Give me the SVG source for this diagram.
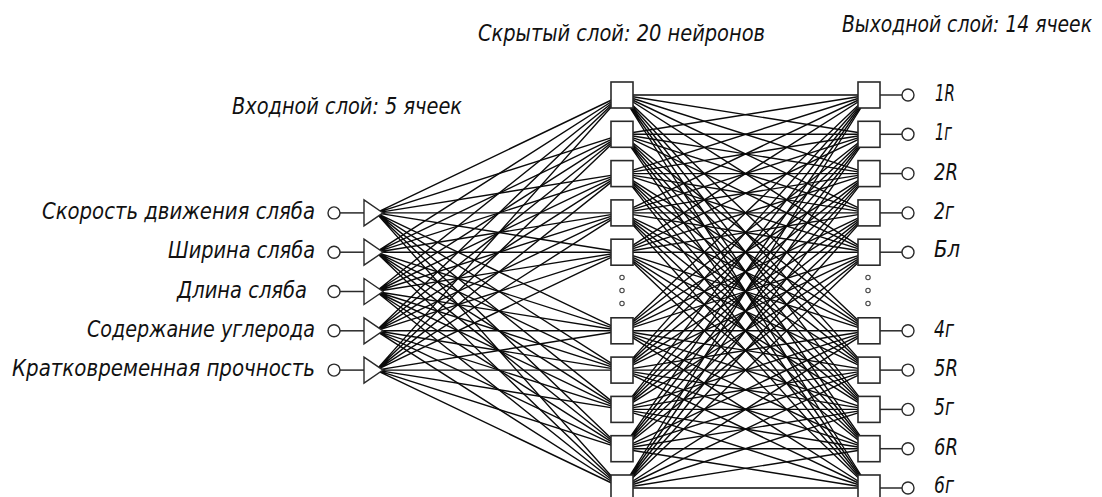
<svg xmlns="http://www.w3.org/2000/svg" width="1102" height="497" viewBox="0 0 1102 497">
<style>
.bg{fill:#fff}
.cn{stroke:#0a0a0a;stroke-width:1.4;fill:none}
.sq{fill:#fff;stroke:#2a2a2a;stroke-width:1.6}
.tr{fill:#fff;stroke:#2a2a2a;stroke-width:1.4}
.pin{fill:#fff;stroke:#2a2a2a;stroke-width:1.4}
.wire{stroke:#2a2a2a;stroke-width:1.5}
.dot{fill:#fff;stroke:#444;stroke-width:1.1}
.t{font-family:"Liberation Sans Narrow","DejaVu Sans Condensed","Liberation Sans",sans-serif;font-style:italic;fill:#111}
.ttl{font-size:23px}
.lbl{font-size:23px}
</style>
<rect class="bg" x="0" y="0" width="1102" height="497"/>

<g id="connectors">
<path class="cn" d="M376 212.9L622 95M376 212.9L622 134.3M376 212.9L622 173.6M376 212.9L622 212.9M376 212.9L622 252.2M376 212.9L622 330.8M376 212.9L622 370.1M376 212.9L622 409.4M376 212.9L622 448.7M376 212.9L622 488"/>
<path class="cn" d="M376 252.2L622 95M376 252.2L622 134.3M376 252.2L622 173.6M376 252.2L622 212.9M376 252.2L622 252.2M376 252.2L622 330.8M376 252.2L622 370.1M376 252.2L622 409.4M376 252.2L622 448.7M376 252.2L622 488"/>
<path class="cn" d="M376 291.5L622 95M376 291.5L622 134.3M376 291.5L622 173.6M376 291.5L622 212.9M376 291.5L622 252.2M376 291.5L622 330.8M376 291.5L622 370.1M376 291.5L622 409.4M376 291.5L622 448.7M376 291.5L622 488"/>
<path class="cn" d="M376 330.8L622 95M376 330.8L622 134.3M376 330.8L622 173.6M376 330.8L622 212.9M376 330.8L622 252.2M376 330.8L622 330.8M376 330.8L622 370.1M376 330.8L622 409.4M376 330.8L622 448.7M376 330.8L622 488"/>
<path class="cn" d="M376 370.1L622 95M376 370.1L622 134.3M376 370.1L622 173.6M376 370.1L622 212.9M376 370.1L622 252.2M376 370.1L622 330.8M376 370.1L622 370.1M376 370.1L622 409.4M376 370.1L622 448.7M376 370.1L622 488"/>

<path class="cn" d="M622 95L869 95M622 95L869 134.3M622 95L869 173.6M622 95L869 212.9M622 95L869 252.2M622 95L869 330.8M622 95L869 370.1M622 95L869 409.4M622 95L869 448.7M622 95L869 488"/>
<path class="cn" d="M622 134.3L869 95M622 134.3L869 134.3M622 134.3L869 173.6M622 134.3L869 212.9M622 134.3L869 252.2M622 134.3L869 330.8M622 134.3L869 370.1M622 134.3L869 409.4M622 134.3L869 448.7M622 134.3L869 488"/>
<path class="cn" d="M622 173.6L869 95M622 173.6L869 134.3M622 173.6L869 173.6M622 173.6L869 212.9M622 173.6L869 252.2M622 173.6L869 330.8M622 173.6L869 370.1M622 173.6L869 409.4M622 173.6L869 448.7M622 173.6L869 488"/>
<path class="cn" d="M622 212.9L869 95M622 212.9L869 134.3M622 212.9L869 173.6M622 212.9L869 212.9M622 212.9L869 252.2M622 212.9L869 330.8M622 212.9L869 370.1M622 212.9L869 409.4M622 212.9L869 448.7M622 212.9L869 488"/>
<path class="cn" d="M622 252.2L869 95M622 252.2L869 134.3M622 252.2L869 173.6M622 252.2L869 212.9M622 252.2L869 252.2M622 252.2L869 330.8M622 252.2L869 370.1M622 252.2L869 409.4M622 252.2L869 448.7M622 252.2L869 488"/>
<path class="cn" d="M622 330.8L869 95M622 330.8L869 134.3M622 330.8L869 173.6M622 330.8L869 212.9M622 330.8L869 252.2M622 330.8L869 330.8M622 330.8L869 370.1M622 330.8L869 409.4M622 330.8L869 448.7M622 330.8L869 488"/>
<path class="cn" d="M622 370.1L869 95M622 370.1L869 134.3M622 370.1L869 173.6M622 370.1L869 212.9M622 370.1L869 252.2M622 370.1L869 330.8M622 370.1L869 370.1M622 370.1L869 409.4M622 370.1L869 448.7M622 370.1L869 488"/>
<path class="cn" d="M622 409.4L869 95M622 409.4L869 134.3M622 409.4L869 173.6M622 409.4L869 212.9M622 409.4L869 252.2M622 409.4L869 330.8M622 409.4L869 370.1M622 409.4L869 409.4M622 409.4L869 448.7M622 409.4L869 488"/>
<path class="cn" d="M622 448.7L869 95M622 448.7L869 134.3M622 448.7L869 173.6M622 448.7L869 212.9M622 448.7L869 252.2M622 448.7L869 330.8M622 448.7L869 370.1M622 448.7L869 409.4M622 448.7L869 448.7M622 448.7L869 488"/>
<path class="cn" d="M622 488L869 95M622 488L869 134.3M622 488L869 173.6M622 488L869 212.9M622 488L869 252.2M622 488L869 330.8M622 488L869 370.1M622 488L869 409.4M622 488L869 448.7M622 488L869 488"/>
</g>

<g id="titles">
<text class="t ttl" x="478" y="41" textLength="287" lengthAdjust="spacingAndGlyphs">Скрытый слой: 20 нейронов</text>
<text class="t ttl" x="842" y="32" textLength="250" lengthAdjust="spacingAndGlyphs">Выходной слой: 14 ячеек</text>
<text class="t ttl" x="232" y="114" textLength="230" lengthAdjust="spacingAndGlyphs">Входной слой: 5 ячеек</text>
</g>

<g id="input-1">
<text class="t lbl" x="42" y="219" textLength="273" lengthAdjust="spacingAndGlyphs">Скорость движения сляба</text>
<line class="wire" x1="340" y1="212.9" x2="364" y2="212.9"/>
<circle class="pin" cx="334" cy="212.9" r="6"/>
<polygon class="tr" points="364,199.9 364,225.9 383,212.9"/>
</g>
<g id="input-2">
<text class="t lbl" x="168" y="258.2" textLength="147" lengthAdjust="spacingAndGlyphs">Ширина сляба</text>
<line class="wire" x1="340" y1="252.2" x2="364" y2="252.2"/>
<circle class="pin" cx="334" cy="252.2" r="6"/>
<polygon class="tr" points="364,239.2 364,265.2 383,252.2"/>
</g>
<g id="input-3">
<text class="t lbl" x="177" y="297.5" textLength="130" lengthAdjust="spacingAndGlyphs">Длина сляба</text>
<line class="wire" x1="340" y1="291.5" x2="364" y2="291.5"/>
<circle class="pin" cx="334" cy="291.5" r="6"/>
<polygon class="tr" points="364,278.5 364,304.5 383,291.5"/>
</g>
<g id="input-4">
<text class="t lbl" x="87" y="336.8" textLength="228" lengthAdjust="spacingAndGlyphs">Содержание углерода</text>
<line class="wire" x1="340" y1="330.8" x2="364" y2="330.8"/>
<circle class="pin" cx="334" cy="330.8" r="6"/>
<polygon class="tr" points="364,317.8 364,343.8 383,330.8"/>
</g>
<g id="input-5">
<text class="t lbl" x="12" y="376.1" textLength="303" lengthAdjust="spacingAndGlyphs">Кратковременная прочность</text>
<line class="wire" x1="340" y1="370.1" x2="364" y2="370.1"/>
<circle class="pin" cx="334" cy="370.1" r="6"/>
<polygon class="tr" points="364,357.1 364,383.1 383,370.1"/>
</g>

<g id="hidden-1"><rect class="sq" x="611" y="82" width="22" height="26"/></g>
<g id="hidden-2"><rect class="sq" x="611" y="121.3" width="22" height="26"/></g>
<g id="hidden-3"><rect class="sq" x="611" y="160.6" width="22" height="26"/></g>
<g id="hidden-4"><rect class="sq" x="611" y="199.9" width="22" height="26"/></g>
<g id="hidden-5"><rect class="sq" x="611" y="239.2" width="22" height="26"/></g>
<g id="hidden-ellipsis">
<circle class="dot" cx="622" cy="277.5" r="2.2"/>
<circle class="dot" cx="622" cy="290.5" r="2.2"/>
<circle class="dot" cx="622" cy="303.5" r="2.2"/>
</g>
<g id="hidden-16"><rect class="sq" x="611" y="317.8" width="22" height="26"/></g>
<g id="hidden-17"><rect class="sq" x="611" y="357.1" width="22" height="26"/></g>
<g id="hidden-18"><rect class="sq" x="611" y="396.4" width="22" height="26"/></g>
<g id="hidden-19"><rect class="sq" x="611" y="435.7" width="22" height="26"/></g>
<g id="hidden-20"><rect class="sq" x="611" y="475" width="22" height="26"/></g>

<g id="output-1R">
<line class="wire" x1="880" y1="95" x2="902" y2="95"/>
<rect class="sq" x="858" y="82" width="22" height="26"/>
<circle class="pin" cx="908" cy="95" r="6"/>
<text class="t lbl" x="935" y="101" textLength="20" lengthAdjust="spacingAndGlyphs">1R</text>
</g>
<g id="output-1r">
<line class="wire" x1="880" y1="134.3" x2="902" y2="134.3"/>
<rect class="sq" x="858" y="121.3" width="22" height="26"/>
<circle class="pin" cx="908" cy="134.3" r="6"/>
<text class="t lbl" x="935" y="140.3" textLength="17" lengthAdjust="spacingAndGlyphs">1г</text>
</g>
<g id="output-2R">
<line class="wire" x1="880" y1="173.6" x2="902" y2="173.6"/>
<rect class="sq" x="858" y="160.6" width="22" height="26"/>
<circle class="pin" cx="908" cy="173.6" r="6"/>
<text class="t lbl" x="934" y="179.6" textLength="24" lengthAdjust="spacingAndGlyphs">2R</text>
</g>
<g id="output-2r">
<line class="wire" x1="880" y1="212.9" x2="902" y2="212.9"/>
<rect class="sq" x="858" y="199.9" width="22" height="26"/>
<circle class="pin" cx="908" cy="212.9" r="6"/>
<text class="t lbl" x="934" y="218.9" textLength="20" lengthAdjust="spacingAndGlyphs">2г</text>
</g>
<g id="output-Bl">
<line class="wire" x1="880" y1="252.2" x2="902" y2="252.2"/>
<rect class="sq" x="858" y="239.2" width="22" height="26"/>
<circle class="pin" cx="908" cy="252.2" r="6"/>
<text class="t lbl" x="934" y="257.2" textLength="26" lengthAdjust="spacingAndGlyphs">Бл</text>
</g>
<g id="output-ellipsis">
<circle class="dot" cx="868" cy="277.5" r="2.2"/>
<circle class="dot" cx="868" cy="290.5" r="2.2"/>
<circle class="dot" cx="868" cy="303.5" r="2.2"/>
</g>
<g id="output-4r">
<line class="wire" x1="880" y1="330.8" x2="902" y2="330.8"/>
<rect class="sq" x="858" y="317.8" width="22" height="26"/>
<circle class="pin" cx="908" cy="330.8" r="6"/>
<text class="t lbl" x="934" y="336.8" textLength="20" lengthAdjust="spacingAndGlyphs">4г</text>
</g>
<g id="output-5R">
<line class="wire" x1="880" y1="370.1" x2="902" y2="370.1"/>
<rect class="sq" x="858" y="357.1" width="22" height="26"/>
<circle class="pin" cx="908" cy="370.1" r="6"/>
<text class="t lbl" x="934" y="376.1" textLength="24" lengthAdjust="spacingAndGlyphs">5R</text>
</g>
<g id="output-5r">
<line class="wire" x1="880" y1="409.4" x2="902" y2="409.4"/>
<rect class="sq" x="858" y="396.4" width="22" height="26"/>
<circle class="pin" cx="908" cy="409.4" r="6"/>
<text class="t lbl" x="934" y="415.4" textLength="20" lengthAdjust="spacingAndGlyphs">5г</text>
</g>
<g id="output-6R">
<line class="wire" x1="880" y1="448.7" x2="902" y2="448.7"/>
<rect class="sq" x="858" y="435.7" width="22" height="26"/>
<circle class="pin" cx="908" cy="448.7" r="6"/>
<text class="t lbl" x="934" y="454.7" textLength="24" lengthAdjust="spacingAndGlyphs">6R</text>
</g>
<g id="output-6r">
<line class="wire" x1="880" y1="488" x2="902" y2="488"/>
<rect class="sq" x="858" y="475" width="22" height="26"/>
<circle class="pin" cx="908" cy="488" r="6"/>
<text class="t lbl" x="934" y="493" textLength="20" lengthAdjust="spacingAndGlyphs">6г</text>
</g>
</svg>
